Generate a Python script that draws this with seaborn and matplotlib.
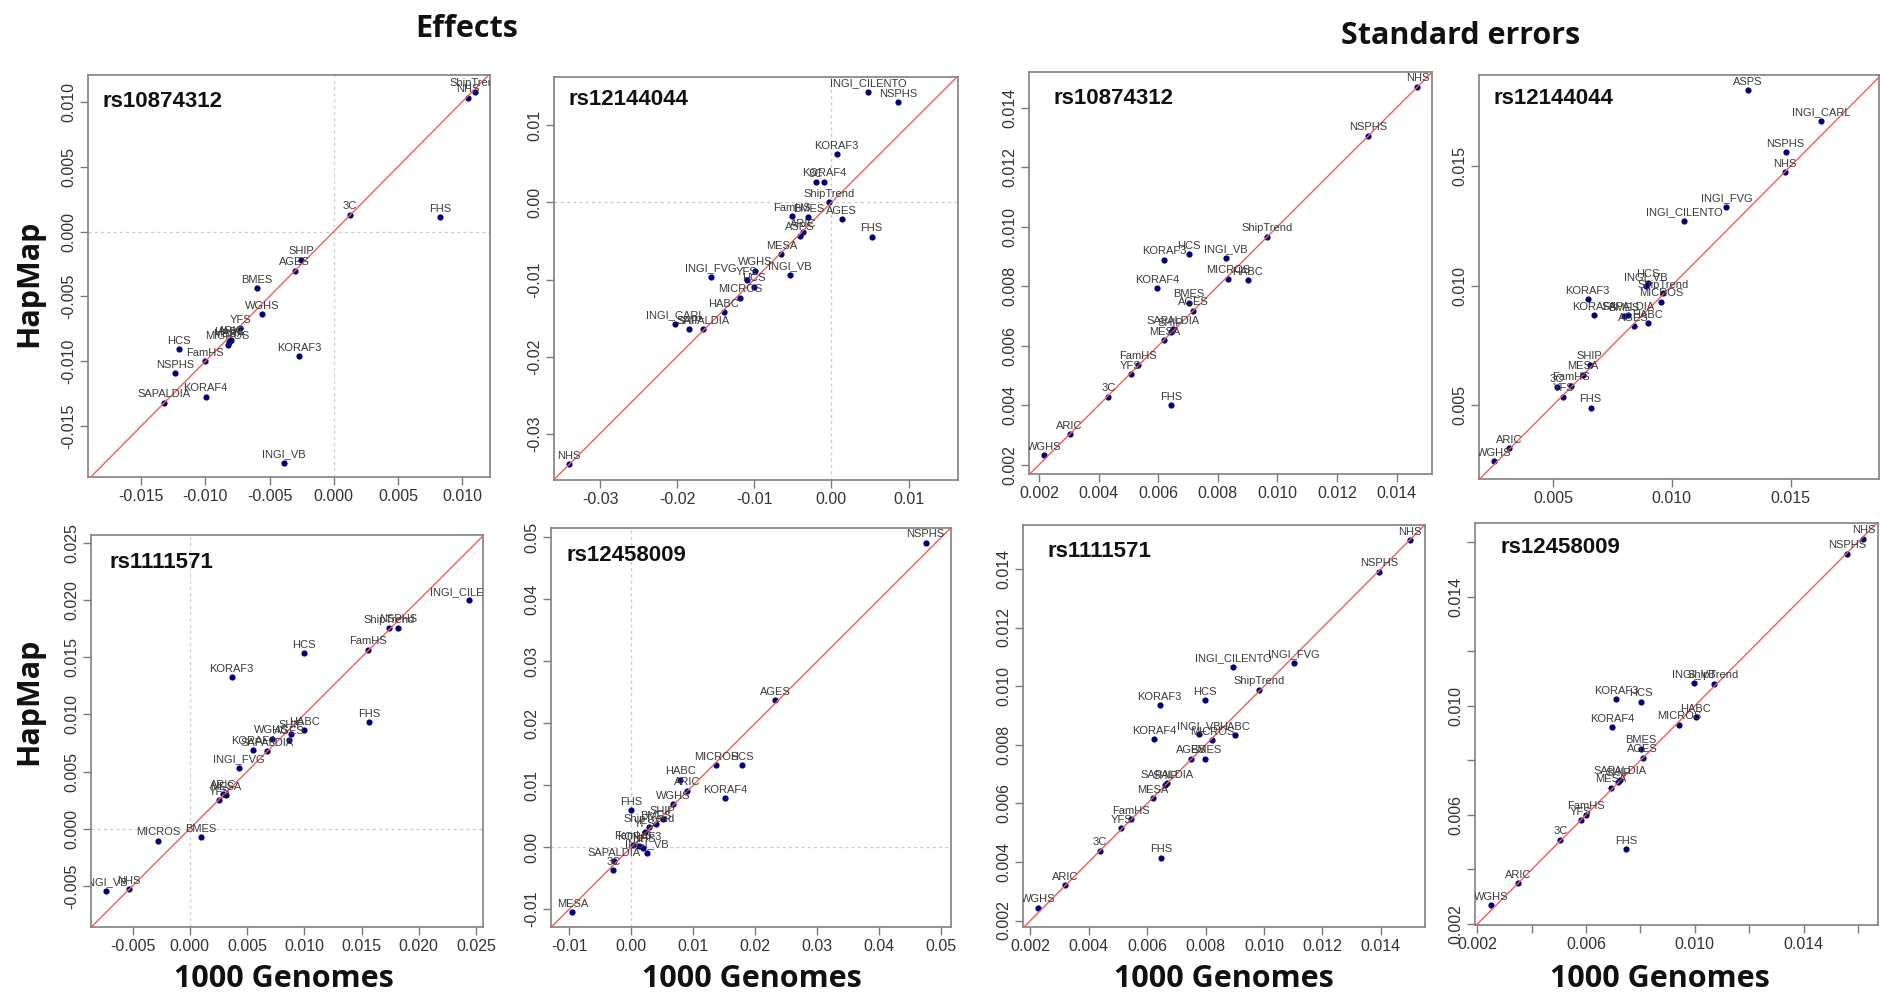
import matplotlib.pyplot as plt
import seaborn as sns
import pandas as pd

sns.set_style('ticks')
plt.rcParams['font.family'] = ['Liberation Sans', 'DejaVu Sans']

W, H = 1881, 993

# ---- data: 1000 Genomes (x) vs HapMap (y) per study ----
# rs10874312, effects
p1_names = ['ShipTrend', 'NHS', '3C', 'FHS', 'SHIP', 'AGES', 'BMES', 'WGHS', 'YFS', 'ARIC',
            'MESA', 'HABC', 'MICROS', 'HCS', 'FamHS', 'NSPHS', 'KORAF3', 'KORAF4', 'SAPALDIA', 'INGI_VB']
p1_x = [0.01098, 0.01041, 0.00124, 0.00824, -0.00254, -0.00303, -0.00601, -0.00557, -0.00728, -0.00798,
        -0.00816, -0.00810, -0.00826, -0.01202, -0.01005, -0.01233, -0.00272, -0.00997, -0.01318, -0.00391]
p1_y = [0.01077, 0.01031, 0.00128, 0.00110, -0.00218, -0.00303, -0.00436, -0.00638, -0.00744, -0.00833,
        -0.00854, -0.00840, -0.00872, -0.00908, -0.01000, -0.01092, -0.00962, -0.01272, -0.01320, -0.01779]

# rs12144044, effects
p2_names = ['INGI_CILENTO', 'NSPHS', 'KORAF3', 'KORAF4', '3C', 'ShipTrend', 'FamHS', 'BMES', 'AGES', 'ARIC',
            'ASPS', 'FHS', 'MESA', 'INGI_FVG', 'WGHS', 'YFS', 'HCS', 'INGI_VB', 'MICROS', 'HABC',
            'INGI_CARL', 'SHIP', 'SAPALDIA', 'NHS']
p2_x = [0.00472, 0.00861, 0.00069, -0.00091, -0.00203, -0.00030, -0.00511, -0.00299, 0.00134, -0.00372,
        -0.00407, 0.00520, -0.00649, -0.01563, -0.00987, -0.01100, -0.01000, -0.00541, -0.01182, -0.01398,
        -0.02022, -0.01848, -0.01671, -0.03407]
p2_y = [0.01433, 0.01303, 0.00628, 0.00268, 0.00260, 0.00004, -0.00182, -0.00195, -0.00221, -0.00385,
        -0.00429, -0.00446, -0.00675, -0.00965, -0.00887, -0.01009, -0.01091, -0.00939, -0.01234, -0.01424,
        -0.01571, -0.01645, -0.01645, -0.03394]

# rs10874312, standard errors
p3_names = ['NHS', 'NSPHS', 'ShipTrend', 'HCS', 'INGI_VB', 'KORAF3', 'MICROS', 'HABC', 'KORAF4', 'BMES',
            'AGES', 'SAPALDIA', 'SHIP', 'MESA', 'FamHS', 'YFS', '3C', 'FHS', 'ARIC', 'WGHS']
p3_x = [0.01470, 0.01305, 0.00965, 0.00702, 0.00828, 0.00621, 0.00835, 0.00901, 0.00597, 0.00702,
        0.00718, 0.00649, 0.00642, 0.00621, 0.00531, 0.00508, 0.00433, 0.00642, 0.00303, 0.00218]
p3_y = [0.01471, 0.01306, 0.00966, 0.00907, 0.00896, 0.00889, 0.00825, 0.00820, 0.00794, 0.00744,
        0.00717, 0.00655, 0.00647, 0.00619, 0.00536, 0.00505, 0.00429, 0.00400, 0.00302, 0.00232]

# rs12144044, standard errors
p4_names = ['ASPS', 'INGI_CARL', 'NSPHS', 'NHS', 'INGI_FVG', 'INGI_CILENTO', 'HCS', 'INGI_VB', 'ShipTrend',
            'MICROS', 'KORAF3', 'KORAF4', 'BMES', 'SAPALDIA', 'AGES', 'HABC', 'SHIP', 'MESA', '3C',
            'FamHS', 'YFS', 'FHS', 'ARIC', 'WGHS']
p4_x = [0.01320, 0.01628, 0.01478, 0.01476, 0.01229, 0.01051, 0.00900, 0.00890, 0.00964,
        0.00955, 0.00646, 0.00672, 0.00797, 0.00817, 0.00839, 0.00899, 0.00655, 0.00627, 0.00515,
        0.00575, 0.00543, 0.00658, 0.00316, 0.00253]
p4_y = [0.01816, 0.01688, 0.01557, 0.01474, 0.01330, 0.01272, 0.01013, 0.00999, 0.00968,
        0.00933, 0.00942, 0.00876, 0.00873, 0.00876, 0.00830, 0.00843, 0.00669, 0.00627, 0.00575,
        0.00581, 0.00535, 0.00490, 0.00320, 0.00267]

# rs1111571, effects
p5_names = ['INGI_CILENTO', 'ShipTrend', 'NSPHS', 'HCS', 'FamHS', 'KORAF3', 'FHS', 'HABC', 'SHIP', 'AGES',
            'WGHS', 'KORAF4', 'SAPALDIA', 'INGI_FVG', 'ARIC', 'MESA', 'YFS', 'MICROS', 'BMES',
            'INGI_VB', 'NHS']
p5_x = [0.02436, 0.01738, 0.01817, 0.01000, 0.01555, 0.00366, 0.01567, 0.01000, 0.00884, 0.00869,
        0.00715, 0.00555, 0.00672, 0.00430, 0.00294, 0.00317, 0.00256, -0.00279, 0.00099,
        -0.00735, -0.00535]
p5_y = [0.01997, 0.01755, 0.01758, 0.01536, 0.01566, 0.01327, 0.00930, 0.00860, 0.00831, 0.00778,
        0.00787, 0.00691, 0.00679, 0.00531, 0.00306, 0.00292, 0.00251, -0.00105, -0.00076,
        -0.00545, -0.00531]

# rs12458009, effects
p6_names = ['NSPHS', 'AGES', 'MICROS', 'HCS', 'HABC', 'ARIC', 'KORAF4', 'WGHS', 'FHS', 'SHIP',
            'BMES', 'ShipTrend', 'YFS', 'FamHS', 'KORAF3', 'NHS', 'INGI_VB', 'SAPALDIA', '3C', 'MESA']
p6_x = [0.04747, 0.02323, 0.01371, 0.01790, 0.00790, 0.00898, 0.01516, 0.00677, 0.00000, 0.00505,
        0.00392, 0.00290, 0.00220, 0.00032, 0.00129, 0.00194, 0.00247, -0.00285, -0.00290, -0.00952]
p6_y = [0.04914, 0.02371, 0.01323, 0.01317, 0.01086, 0.00909, 0.00790, 0.00688, 0.00597, 0.00452,
        0.00371, 0.00323, 0.00242, 0.00038, 0.00022, -0.00011, -0.00097, -0.00231, -0.00376, -0.01054]

# rs1111571, standard errors
p7_names = ['NHS', 'NSPHS', 'INGI_CILENTO', 'INGI_FVG', 'ShipTrend', 'HCS', 'KORAF3', 'INGI_VB', 'MICROS',
            'HABC', 'KORAF4', 'AGES', 'BMES', 'SAPALDIA', 'SHIP', 'MESA', 'FamHS', 'YFS', '3C', 'FHS',
            'ARIC', 'WGHS']
p7_x = [0.01498, 0.01394, 0.00894, 0.01103, 0.00984, 0.00799, 0.00643, 0.00777, 0.00823,
        0.00899, 0.00625, 0.00751, 0.00799, 0.00669, 0.00661, 0.00619, 0.00544, 0.00512, 0.00437, 0.00648,
        0.00318, 0.00226]
p7_y = [0.01498, 0.01390, 0.01066, 0.01079, 0.00987, 0.00952, 0.00935, 0.00836, 0.00815,
        0.00832, 0.00819, 0.00753, 0.00753, 0.00668, 0.00663, 0.00618, 0.00546, 0.00515, 0.00438, 0.00415,
        0.00320, 0.00244]

# rs12458009, standard errors
p8_names = ['NHS', 'NSPHS', 'INGI_VB', 'ShipTrend', 'KORAF3', 'HCS', 'HABC', 'MICROS', 'KORAF4', 'BMES',
            'AGES', 'SAPALDIA', 'SHIP', 'MESA', 'FamHS', 'YFS', '3C', 'FHS', 'ARIC', 'WGHS']
p8_x = [0.01620, 0.01559, 0.00996, 0.01069, 0.00710, 0.00801, 0.01003, 0.00942, 0.00696, 0.00801,
        0.00808, 0.00726, 0.00719, 0.00691, 0.00599, 0.00581, 0.00505, 0.00746, 0.00349, 0.00249]
p8_y = [0.01613, 0.01557, 0.01085, 0.01081, 0.01023, 0.01015, 0.00957, 0.00930, 0.00922, 0.00842,
        0.00809, 0.00728, 0.00722, 0.00699, 0.00601, 0.00581, 0.00508, 0.00473, 0.00349, 0.00268]

# axis ticks and labels
ticks_p1 = [-0.015, -0.010, -0.005, 0.000, 0.005, 0.010]
ticks_p2 = [-0.03, -0.02, -0.01, 0.00, 0.01]
ticks_se = [0.002, 0.004, 0.006, 0.008, 0.010, 0.012, 0.014]
ticks_p4 = [0.005, 0.010, 0.015]
ticks_p5 = [-0.005, 0.000, 0.005, 0.010, 0.015, 0.020, 0.025]
ticks_p6 = [-0.01, 0.00, 0.01, 0.02, 0.03, 0.04, 0.05]
ticks_p8 = [0.002, 0.004, 0.006, 0.008, 0.010, 0.012, 0.014, 0.016]
labels_p8 = ['0.002', '', '0.006', '', '0.010', '', '0.014', '']

# panels: (snp, names, x, y, xlim, ylim, ticks, labels, effects?)
panels = [
    ('rs10874312', p1_names, p1_x, p1_y, (-0.01912, 0.01215), (-0.0189, 0.01205), ticks_p1, None, True),
    ('rs12144044', p2_names, p2_x, p2_y, (-0.03597, 0.01641), (-0.03602, 0.01628), ticks_p2, None, True),
    ('rs10874312', p3_names, p3_x, p3_y, (0.001664, 0.01519), (0.00169, 0.0152), ticks_se, None, False),
    ('rs12144044', p4_names, p4_x, p4_y, (0.00189, 0.01871), (0.00192, 0.0188), ticks_p4, None, False),
    ('rs1111571', p5_names, p5_x, p5_y, (-0.00863, 0.02561), (-0.0086, 0.02569), ticks_p5, None, True),
    ('rs12458009', p6_names, p6_x, p6_y, (-0.01296, 0.05156), (-0.0129, 0.0515), ticks_p6, None, True),
    ('rs1111571', p7_names, p7_x, p7_y, (0.00175, 0.01551), (0.00178, 0.0155), ticks_se, None, False),
    ('rs12458009', p8_names, p8_x, p8_y, (0.00191, 0.01674), (0.00196, 0.0167), ticks_p8, labels_p8, False),
]

# layout in pixels: left, top, right, bottom ; title position in axes fraction
boxes = [(88, 75, 490, 477), (554, 77, 958, 480), (1029, 72, 1432, 474), (1479, 75, 1879, 479),
         (91, 535, 483, 927), (551, 528, 951, 927), (1023, 525, 1425, 927), (1475, 523, 1878, 925)]
title_pos = [(0.037, 0.935), (0.035, 0.945), (0.062, 0.935), (0.037, 0.943),
             (0.046, 0.930), (0.040, 0.932), (0.062, 0.933), (0.064, 0.940)]

fig = plt.figure(figsize=(W / 100, H / 100), dpi=100)

for (snp, names, xs, ys, xlim, ylim, ticks, labels, effects), box, tpos in zip(panels, boxes, title_pos):
    left, top, right, bottom = box
    ax = fig.add_axes([left / W, 1 - bottom / H, (right - left) / W, (bottom - top) / H])
    df = pd.DataFrame({'study': names, 'g1000': xs, 'hapmap': ys})

    if effects:
        ax.axhline(0, color='#cccccc', lw=0.9, ls=(0, (2.5, 2.5)), zorder=1)
        ax.axvline(0, color='#cccccc', lw=0.9, ls=(0, (2.5, 2.5)), zorder=1)

    sns.scatterplot(data=df, x='g1000', y='hapmap', ax=ax, color='#00007a', s=20,
                    linewidth=0, zorder=2)
    ax.axline((0, 0), slope=1, color='#ee5f5a', lw=1.0, zorder=3)

    for _, r in df.iterrows():
        ax.annotate(r.study, (r.g1000, r.hapmap), xytext=(0, 2.5), textcoords='offset points',
                    ha='center', va='bottom', fontsize=8, color='#3a3a3a',
                    clip_on=True, zorder=4)

    ax.set_xlim(xlim)
    ax.set_ylim(ylim)
    dec = 2 if snp in ('rs12144044', 'rs12458009') and effects else 3
    if labels is None:
        labels = [f'{t:.{dec}f}' for t in ticks]
    ax.set_xticks(ticks)
    ax.set_xticklabels(labels)
    ax.set_yticks(ticks)
    ax.set_yticklabels(labels, rotation=90, va='center')
    ax.set_xlabel('')
    ax.set_ylabel('')
    ax.tick_params(direction='out', length=5.5, width=1.0, color='#7a7a7a',
                   labelsize=11.5, labelcolor='#333333', pad=3)
    for sp in ax.spines.values():
        sp.set_visible(True)
        sp.set_color('#808080')
        sp.set_linewidth(1.2)

    ax.text(tpos[0], tpos[1], snp, transform=ax.transAxes, fontsize=16, fontweight='bold',
            color='#111111', ha='left', va='center')

# figure-level labels
big = dict(family='Open Sans', fontweight='bold', fontsize=22, color='#111111')
fig.text(467 / W, 1 - 37 / H, 'Effects', ha='center', va='baseline', **big)
fig.text(1461 / W, 1 - 44 / H, 'Standard errors', ha='center', va='baseline', **big)
for yc in (283, 701):
    fig.text(29 / W, 1 - yc / H, 'HapMap', rotation=90, ha='center', va='center', **big)
for xc in (284, 752, 1224, 1660):
    fig.text(xc / W, 1 - 987 / H, '1000 Genomes', ha='center', va='baseline', **big)

fig.savefig('out.png', dpi=100)
